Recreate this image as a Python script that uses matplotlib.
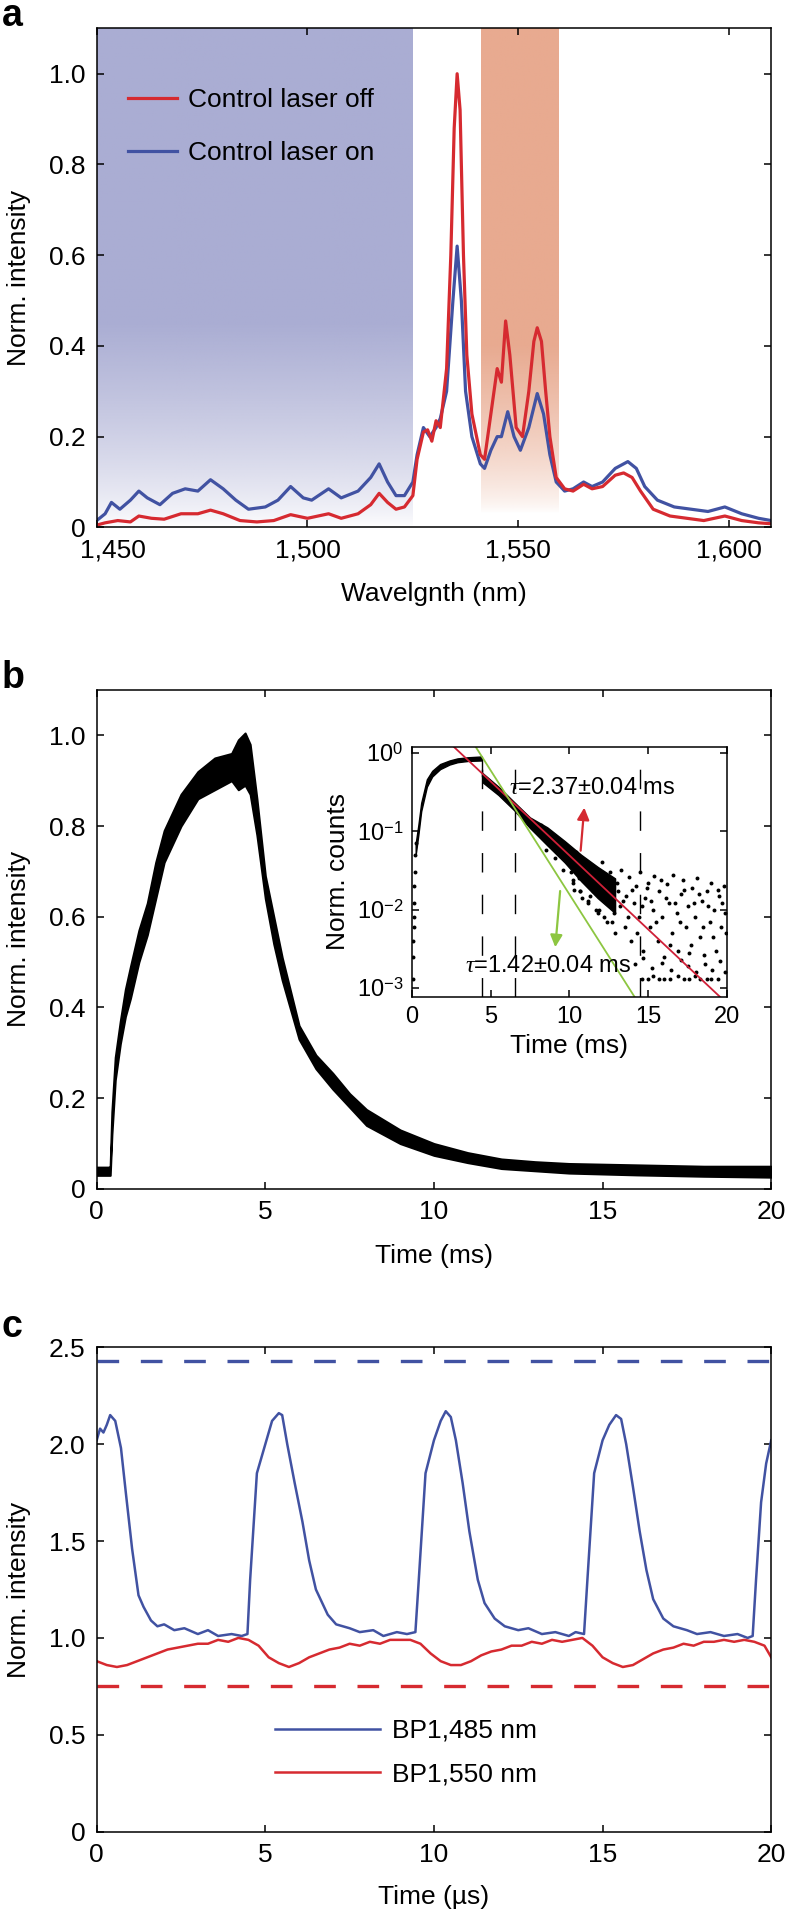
import numpy as np
import matplotlib.pyplot as plt
import matplotlib.transforms as mtransforms
from matplotlib.colors import to_rgb

plt.rcParams['font.family'] = ['Liberation Sans', 'DejaVu Sans']
plt.rcParams['mathtext.fontset'] = 'custom'
plt.rcParams['mathtext.rm'] = 'Liberation Sans'
plt.rcParams['mathtext.it'] = 'Liberation Serif:italic'
plt.rcParams['axes.linewidth'] = 1.1

RED = '#d62a30'
BLUE = '#4152a2'
FS = 19

# ---------------- panel a: emission spectra ----------------
wl_off = [1450, 1452, 1455, 1458, 1460, 1463, 1466, 1470, 1474, 1477, 1480, 1484, 1488,
          1492, 1496, 1500, 1505, 1508, 1512, 1515, 1517, 1519, 1521, 1523, 1525, 1526,
          1527.5, 1528.5, 1529.5, 1530.5, 1531.5, 1533, 1534, 1534.8, 1535.5, 1536.2, 1537,
          1537.8, 1539, 1541, 1542, 1543.5, 1545, 1546, 1547, 1548, 1549.5, 1551, 1552.5,
          1553.7, 1554.5, 1555.5, 1556.5, 1557.5, 1559, 1561, 1563, 1565.5, 1567.5, 1570,
          1573, 1575, 1577, 1579, 1582, 1586, 1590, 1594, 1599, 1603, 1607, 1610]
int_off = [0.005, 0.01, 0.015, 0.012, 0.025, 0.02, 0.018, 0.03, 0.03, 0.038, 0.03, 0.015,
           0.012, 0.015, 0.028, 0.02, 0.03, 0.02, 0.03, 0.05, 0.075, 0.055, 0.04, 0.045, 0.07,
           0.15, 0.21, 0.215, 0.19, 0.235, 0.22, 0.35, 0.6, 0.88, 1.0, 0.92, 0.6, 0.38, 0.25,
           0.16, 0.15, 0.25, 0.35, 0.32, 0.455, 0.38, 0.22, 0.2, 0.3, 0.41, 0.44, 0.41, 0.3,
           0.2, 0.11, 0.085, 0.08, 0.095, 0.085, 0.09, 0.115, 0.12, 0.11, 0.08, 0.04, 0.025,
           0.02, 0.015, 0.025, 0.015, 0.01, 0.008]

wl_on = [1450, 1452, 1453.5, 1455.5, 1458, 1460, 1462, 1465, 1468, 1471, 1474, 1477, 1480,
         1483, 1486, 1490, 1493, 1496, 1499, 1501, 1505, 1508, 1512, 1515, 1517, 1519, 1521,
         1523, 1525, 1526, 1527.5, 1529, 1530.5, 1531.5, 1533, 1534.5, 1535.5, 1536.5, 1537.5,
         1539, 1541, 1542, 1543.5, 1545, 1546, 1547.5, 1549, 1550.5, 1552.5, 1554.5, 1556,
         1557.5, 1559, 1561, 1563, 1565.5, 1567.5, 1570, 1573, 1576, 1578, 1580, 1583, 1587,
         1591, 1595, 1599, 1603, 1607, 1610]
int_on = [0.015, 0.03, 0.055, 0.04, 0.06, 0.08, 0.065, 0.05, 0.075, 0.085, 0.08, 0.105, 0.085,
          0.06, 0.04, 0.045, 0.06, 0.09, 0.065, 0.06, 0.085, 0.065, 0.08, 0.11, 0.14, 0.1, 0.07,
          0.07, 0.1, 0.16, 0.22, 0.2, 0.22, 0.24, 0.3, 0.5, 0.62, 0.5, 0.3, 0.2, 0.14, 0.13,
          0.17, 0.2, 0.2, 0.255, 0.2, 0.17, 0.22, 0.295, 0.25, 0.16, 0.1, 0.08, 0.085, 0.1,
          0.09, 0.1, 0.13, 0.145, 0.13, 0.09, 0.06, 0.045, 0.04, 0.035, 0.045, 0.03, 0.02,
          0.015]

band_blue = (1450, 1524.8)
band_orange = (1541.1, 1559.4)
a_xticks = [1450, 1500, 1550, 1600]
a_xlabels = ['1,450', '1,500', '1,550', '1,600']
a_yticks = [0, 0.2, 0.4, 0.6, 0.8, 1.0]
a_ylabels = ['0', '0.2', '0.4', '0.6', '0.8', '1.0']

# ---------------- panel b: decay trace (noise band) ----------------
b_t = [0.0, 0.35, 0.4, 0.45, 0.55, 0.7, 0.85, 1.0, 1.25, 1.5, 1.75, 2.0, 2.5, 3.0, 3.5, 4.0,
       4.2, 4.4, 4.55, 4.75, 5.0, 5.25, 5.5, 6.0, 6.5, 7.0, 7.5, 8.0, 9.0, 10.0, 11.0, 12.0,
       13.0, 14.0, 16.0, 18.0, 20.0]
b_lo = [0.03, 0.03, 0.03, 0.12, 0.24, 0.32, 0.38, 0.42, 0.50, 0.56, 0.64, 0.72, 0.80, 0.86,
        0.88, 0.90, 0.88, 0.89, 0.87, 0.78, 0.64, 0.54, 0.46, 0.33, 0.265, 0.22, 0.18, 0.14,
        0.10, 0.074, 0.058, 0.045, 0.04, 0.035, 0.031, 0.028, 0.026]
b_hi = [0.048, 0.048, 0.05, 0.17, 0.29, 0.37, 0.44, 0.49, 0.57, 0.63, 0.72, 0.79, 0.87, 0.92,
        0.95, 0.96, 0.99, 1.005, 0.98, 0.86, 0.69, 0.60, 0.51, 0.36, 0.295, 0.255, 0.21, 0.175,
        0.13, 0.10, 0.08, 0.066, 0.06, 0.056, 0.053, 0.05, 0.05]
b_xticks = [0, 5, 10, 15, 20]
b_yticks = [0, 0.2, 0.4, 0.6, 0.8, 1.0]
b_ylabels = ['0', '0.2', '0.4', '0.6', '0.8', '1.0']

# inset: log counts
rise_t = [0.25, 0.42, 0.6, 0.96, 1.3, 1.8, 2.4, 2.9, 3.6, 4.45]
rise_lo = [0.05, 0.09, 0.18, 0.37, 0.50, 0.62, 0.71, 0.76, 0.79, 0.80]
rise_hi = [0.07, 0.12, 0.23, 0.46, 0.59, 0.72, 0.80, 0.85, 0.88, 0.90]
dec_t = [4.5, 5.5, 6.5, 7.5, 8.6, 9.7, 10.75, 11.8, 12.9]
dec_lo = [0.42, 0.29, 0.185, 0.11, 0.066, 0.04, 0.023, 0.014, 0.009]
dec_hi = [0.55, 0.37, 0.235, 0.15, 0.112, 0.075, 0.05, 0.035, 0.025]
early_t = [0.08, 0.1, 0.1, 0.12, 0.12, 0.15, 0.15, 0.18, 0.2, 0.25]
early_y = [0.0013, 0.0025, 0.004, 0.006, 0.008, 0.012, 0.02, 0.03, 0.05, 0.07]
edge_t = [8.2, 8.8, 9.3, 9.9, 10.4, 10.9, 11.4, 11.9, 12.4, 8.5, 9.1, 9.6, 10.2, 10.7, 11.2,
          11.7, 12.2, 12.7]
edge_y = [0.12, 0.09, 0.075, 0.06, 0.055, 0.042, 0.036, 0.03, 0.026, 0.058, 0.045, 0.032,
          0.024, 0.017, 0.013, 0.01, 0.008, 0.007]
cloud1_t = [10.1, 10.3, 10.4, 10.6, 10.8, 10.9, 11.1, 11.2, 11.4, 11.5, 11.7, 11.8, 12.0,
            12.1, 12.3, 12.4, 12.6, 12.7, 12.9, 13.0, 13.2, 13.3, 13.5, 13.6, 13.8, 13.9,
            14.1, 14.2, 14.4, 14.5, 14.7, 14.8, 15.0, 15.1, 15.3, 15.4, 15.6, 15.7, 15.9,
            16.0, 16.2, 16.3, 16.5, 16.6, 16.8, 16.9, 17.1, 17.2, 17.4, 17.5, 17.7, 17.8,
            18.0, 18.1, 18.3, 18.4, 18.6, 18.7, 18.9, 19.0, 19.2, 19.3, 19.5, 19.6, 19.8, 19.9]
cloud1_y = [0.03, 0.018, 0.05, 0.025, 0.014, 0.04, 0.022, 0.012, 0.035, 0.017, 0.028, 0.009,
            0.02, 0.04, 0.013, 0.007, 0.03, 0.016, 0.005, 0.022, 0.011, 0.032, 0.006, 0.015,
            0.026, 0.004, 0.012, 0.02, 0.008, 0.03, 0.003, 0.014, 0.022, 0.006, 0.01, 0.027,
            0.004, 0.017, 0.008, 0.0025, 0.021, 0.012, 0.005, 0.028, 0.009, 0.003, 0.016,
            0.024, 0.006, 0.011, 0.0035, 0.019, 0.008, 0.025, 0.0045, 0.013, 0.002, 0.017,
            0.007, 0.022, 0.01, 0.003, 0.015, 0.006, 0.02, 0.009]
cloud2_t = [10.2, 10.5, 10.7, 11.0, 11.3, 11.6, 11.9, 12.2, 12.5, 12.8, 13.1, 13.4, 13.7,
            14.0, 14.3, 14.6, 14.9, 15.2, 15.5, 15.8, 16.1, 16.4, 16.7, 17.0, 17.3, 17.6,
            17.9, 18.2, 18.5, 18.8, 19.1, 19.4, 19.7, 19.95]
cloud2_y = [0.022, 0.035, 0.017, 0.028, 0.015, 0.024, 0.01, 0.018, 0.025, 0.009, 0.017,
            0.013, 0.008, 0.018, 0.005, 0.011, 0.019, 0.013, 0.007, 0.024, 0.014, 0.0035,
            0.012, 0.007, 0.018, 0.0028, 0.012, 0.016, 0.006, 0.011, 0.0045, 0.018, 0.012,
            0.005]
cloud3_t = [14.15, 14.65, 15.25, 15.85, 16.45, 17.05, 17.55, 18.05, 18.55, 19.05, 19.55, 19.85]
cloud3_y = [0.002, 0.0024, 0.0018, 0.0021, 0.0017, 0.0023, 0.0019, 0.0016, 0.0026, 0.0017,
            0.0022, 0.0016]
floor_t = [14.6, 15.0, 15.3, 15.7, 16.0, 16.4, 16.9, 17.3, 17.6, 18.0, 18.3, 18.7, 19.0, 19.4]
floor_y = [0.0013, 0.0013, 0.0014, 0.0013, 0.0013, 0.0013, 0.0014, 0.0013, 0.0013, 0.0014,
           0.0013, 0.0013, 0.0013, 0.0013]
fit_slow_t, fit_slow_y = [2.66, 19.58], [1.2, 7.6e-4]
fit_fast_t, fit_fast_y = [4.05, 14.15], [1.2, 7.6e-4]
marker_t = [4.47, 6.53, 14.5]
in_xticks = [0, 5, 10, 15, 20]
in_yticks = [1e-3, 1e-2, 1e-1, 1e0]
in_ylabels = ['$10^{-3}$', '$10^{-2}$', '$10^{-1}$', '$10^{0}$']

# ---------------- panel c: modulated intensity ----------------
c_t_blue = [0, 0.1, 0.2, 0.3, 0.4, 0.55, 0.72, 0.87, 1.05, 1.24, 1.39, 1.61, 1.8, 2.0, 2.3,
            2.6, 3.0, 3.3, 3.6, 4.0, 4.3, 4.47, 4.55, 4.75, 5.0, 5.2, 5.4, 5.5, 5.65, 5.87,
            6.1, 6.3, 6.5, 6.85, 7.1, 7.5, 7.8, 8.2, 8.5, 8.9, 9.2, 9.45, 9.55, 9.75, 10.0,
            10.2, 10.35, 10.5, 10.65, 10.85, 11.05, 11.3, 11.5, 11.8, 12.1, 12.5, 12.8, 13.2,
            13.6, 14.0, 14.2, 14.45, 14.55, 14.75, 15.0, 15.2, 15.4, 15.55, 15.7, 15.9, 16.1,
            16.3, 16.5, 16.8, 17.1, 17.5, 17.8, 18.2, 18.6, 19.0, 19.3, 19.45, 19.55, 19.7,
            19.85, 20]
c_blue = [2.02, 2.08, 2.06, 2.1, 2.15, 2.12, 1.98, 1.74, 1.46, 1.22, 1.16, 1.09, 1.06, 1.07,
          1.04, 1.05, 1.02, 1.04, 1.01, 1.02, 1.01, 1.02, 1.3, 1.85, 2.0, 2.12, 2.16, 2.15,
          2.0, 1.8, 1.6, 1.4, 1.25, 1.12, 1.07, 1.05, 1.03, 1.04, 1.01, 1.03, 1.02, 1.03, 1.3,
          1.85, 2.02, 2.12, 2.17, 2.14, 2.02, 1.8, 1.55, 1.3, 1.18, 1.1, 1.06, 1.04, 1.05,
          1.02, 1.03, 1.01, 1.03, 1.02, 1.3, 1.85, 2.02, 2.1, 2.15, 2.13, 2.0, 1.78, 1.55,
          1.35, 1.2, 1.1, 1.06, 1.04, 1.02, 1.03, 1.01, 1.02, 1.0, 1.01, 1.3, 1.7, 1.9, 2.02]
c_t_red = [0, 0.3, 0.6, 0.9, 1.2, 1.5, 1.8, 2.1, 2.4, 2.7, 3.0, 3.3, 3.6, 3.9, 4.2, 4.5, 4.8,
           5.1, 5.4, 5.7, 6.0, 6.3, 6.6, 6.9, 7.2, 7.5, 7.8, 8.1, 8.4, 8.7, 9.0, 9.3, 9.6,
           9.9, 10.2, 10.5, 10.8, 11.1, 11.4, 11.7, 12.0, 12.3, 12.6, 12.9, 13.2, 13.5, 13.8,
           14.1, 14.4, 14.7, 15.0, 15.3, 15.6, 15.9, 16.2, 16.5, 16.8, 17.1, 17.4, 17.7, 18.0,
           18.3, 18.6, 18.9, 19.2, 19.5, 19.8, 20]
c_red = [0.88, 0.86, 0.85, 0.86, 0.88, 0.9, 0.92, 0.94, 0.95, 0.96, 0.97, 0.97, 0.99, 0.98,
         1.0, 0.99, 0.96, 0.9, 0.87, 0.85, 0.87, 0.9, 0.92, 0.94, 0.95, 0.97, 0.96, 0.98,
         0.97, 0.99, 0.99, 0.99, 0.97, 0.92, 0.88, 0.86, 0.86, 0.88, 0.91, 0.93, 0.94, 0.96,
         0.96, 0.98, 0.97, 0.99, 0.98, 0.99, 1.0, 0.96, 0.9, 0.87, 0.85, 0.86, 0.89, 0.92,
         0.94, 0.95, 0.97, 0.96, 0.98, 0.98, 0.99, 0.98, 0.99, 0.98, 0.96, 0.9]
c_blue_ref = 2.43
c_red_ref = 0.75
c_xticks = [0, 5, 10, 15, 20]
c_yticks = [0, 0.5, 1.0, 1.5, 2.0, 2.5]
c_ylabels = ['0', '0.5', '1.0', '1.5', '2.0', '2.5']


def box_ticks(ax, size=FS, length=5):
    ax.tick_params(direction='in', top=True, right=True, length=length, width=1.1,
                   labelsize=size, pad=8)


def gradient_band(ax, x0, x1, color, y_full, y_zero):
    yy = np.linspace(0, 1.1, 300)
    alpha = np.clip((yy - y_zero) / (y_full - y_zero), 0, 1) ** 0.7
    rgba = np.zeros((300, 2, 4))
    rgba[..., :3] = to_rgb(color)
    rgba[..., 3] = alpha[:, None]
    ax.imshow(rgba, extent=[x0, x1, 0, 1.1], origin='lower', aspect='auto', zorder=0,
              interpolation='bilinear')


fig = plt.figure(figsize=(7.88, 19.17), dpi=100)

# ---- a ----
ax_a = fig.add_axes([0.1227, 0.7249, 0.8560, 0.2603])
gradient_band(ax_a, *band_blue, '#aaadd3', 0.45, 0.0)
gradient_band(ax_a, *band_orange, '#e8aa90', 0.40, 0.03)
ax_a.set_xlim(1450, 1610)
ax_a.set_ylim(0, 1.1)
l_on, = ax_a.plot(wl_on, int_on, color=BLUE, lw=2.3, label='Control laser on')
l_off, = ax_a.plot(wl_off, int_off, color=RED, lw=2.3, label='Control laser off')
# first wavelength label is drawn a little right of its tick, as in the original
ax_a.set_xticks(a_xticks, [''] + a_xlabels[1:])
shift = mtransforms.ScaledTranslation(0.16, -8 / 72, fig.dpi_scale_trans)
ax_a.text(a_xticks[0], 0, a_xlabels[0], fontsize=FS, ha='center', va='top',
          transform=ax_a.get_xaxis_transform() + shift)
ax_a.set_yticks(a_yticks, a_ylabels)
box_ticks(ax_a)
ax_a.set_xlabel('Wavelgnth (nm)', fontsize=FS)
ax_a.set_ylabel('Norm. intensity', fontsize=FS)
ax_a.legend(handles=[l_off, l_on], loc='upper left', bbox_to_anchor=(0.046, 0.88),
            frameon=False, fontsize=FS, handlelength=1.85, handletextpad=0.45,
            labelspacing=1.1, borderpad=0, borderaxespad=0)

# ---- b ----
ax_b = fig.add_axes([0.1227, 0.3798, 0.8560, 0.2603])
ax_b.fill_between(b_t, b_lo, b_hi, color='black', lw=1.5)
ax_b.set_xlim(0, 20)
ax_b.set_ylim(0, 1.1)
ax_b.set_xticks(b_xticks)
ax_b.set_yticks(b_yticks, b_ylabels)
box_ticks(ax_b)
ax_b.set_xlabel('Time (ms)', fontsize=FS)
ax_b.set_ylabel('Norm. intensity', fontsize=FS)

ax_in = fig.add_axes([0.5225, 0.4798, 0.4001, 0.1307])
ax_in.set_yscale('log')
ax_in.fill_between(rise_t, rise_lo, rise_hi, color='black', lw=1.0)
ax_in.fill_between(dec_t, dec_lo, dec_hi, color='black', lw=1.0)
ax_in.plot([4.3, 4.45, 4.45], [0.87, 0.87, 0.5], color='black', lw=1.0)
for tt, yy in [(early_t, early_y), (edge_t, edge_y), (cloud1_t, cloud1_y),
               (cloud2_t, cloud2_y), (cloud3_t, cloud3_y), (floor_t, floor_y)]:
    ax_in.scatter(tt, yy, s=8, color='black', lw=0)
for xm in marker_t:
    ax_in.axvline(xm, color='black', lw=1.0, dashes=(14, 16))
ax_in.plot(fit_slow_t, fit_slow_y, color='#cf2038', lw=1.3)
ax_in.plot(fit_fast_t, fit_fast_y, color='#8dc641', lw=1.3)
ax_in.annotate('', xy=(10.96, 0.217), xytext=(10.70, 0.052),
               arrowprops=dict(arrowstyle='-|>', color='#d42a32', lw=1.6, mutation_scale=18))
ax_in.annotate('', xy=(9.09, 0.00305), xytext=(9.43, 0.0187),
               arrowprops=dict(arrowstyle='-|>', color='#8dc641', lw=1.6, mutation_scale=18))
ax_in.text(6.15, 0.357, r'$\tau$=2.37±0.04 ms', fontsize=17, va='center', ha='left')
ax_in.text(3.4, 0.0019, r'$\tau$=1.42±0.04 ms', fontsize=17, va='center', ha='left')
ax_in.set_xlim(0, 20)
ax_in.set_ylim(7.6e-4, 1.2)
ax_in.set_xticks(in_xticks)
ax_in.set_yticks(in_yticks, in_ylabels)
ax_in.minorticks_off()
box_ticks(ax_in, size=17, length=5)
ax_in.tick_params(pad=6)
ax_in.set_xlabel('Time (ms)', fontsize=FS)
ax_in.set_ylabel('Norm. counts', fontsize=FS)

# ---- c ----
ax_c = fig.add_axes([0.1227, 0.0445, 0.8560, 0.2527])
ax_c.axhline(c_blue_ref, color=BLUE, lw=2.4, dashes=(6.5, 6.5))
ax_c.axhline(c_red_ref, color=RED, lw=2.4, dashes=(6.5, 6.5))
lb, = ax_c.plot(c_t_blue, c_blue, color=BLUE, lw=1.8, label='BP1,485 nm')
lr, = ax_c.plot(c_t_red, c_red, color=RED, lw=1.8, label='BP1,550 nm')
ax_c.set_xlim(0, 20)
ax_c.set_ylim(0, 2.5)
ax_c.set_xticks(c_xticks)
ax_c.set_yticks(c_yticks, c_ylabels)
box_ticks(ax_c)
ax_c.set_xlabel('Time (µs)', fontsize=FS)
ax_c.set_ylabel('Norm. intensity', fontsize=FS)
ax_c.legend(handles=[lb, lr], loc='upper left', bbox_to_anchor=(0.264, 0.233),
            frameon=False, fontsize=FS, handlelength=4.0, handletextpad=0.45,
            labelspacing=0.75, borderpad=0, borderaxespad=0)

for ax in (ax_a, ax_b, ax_c):
    ax.yaxis.set_label_coords(-0.097, 0.5)
    ax.xaxis.set_label_coords(0.5, -0.11)
ax_in.yaxis.set_label_coords(-0.196, 0.5)
ax_in.xaxis.set_label_coords(0.5, -0.146)

fig.text(12.5 / 788, 1 - 16 / 1917, 'a', fontsize=27, fontweight='bold', ha='center', va='center')
fig.text(12.7 / 788, 1 - 678 / 1917, 'b', fontsize=27, fontweight='bold', ha='center', va='center')
fig.text(11.7 / 788, 1 - 1327 / 1917, 'c', fontsize=27, fontweight='bold', ha='center', va='center')

fig.savefig('out.png', dpi=100)
